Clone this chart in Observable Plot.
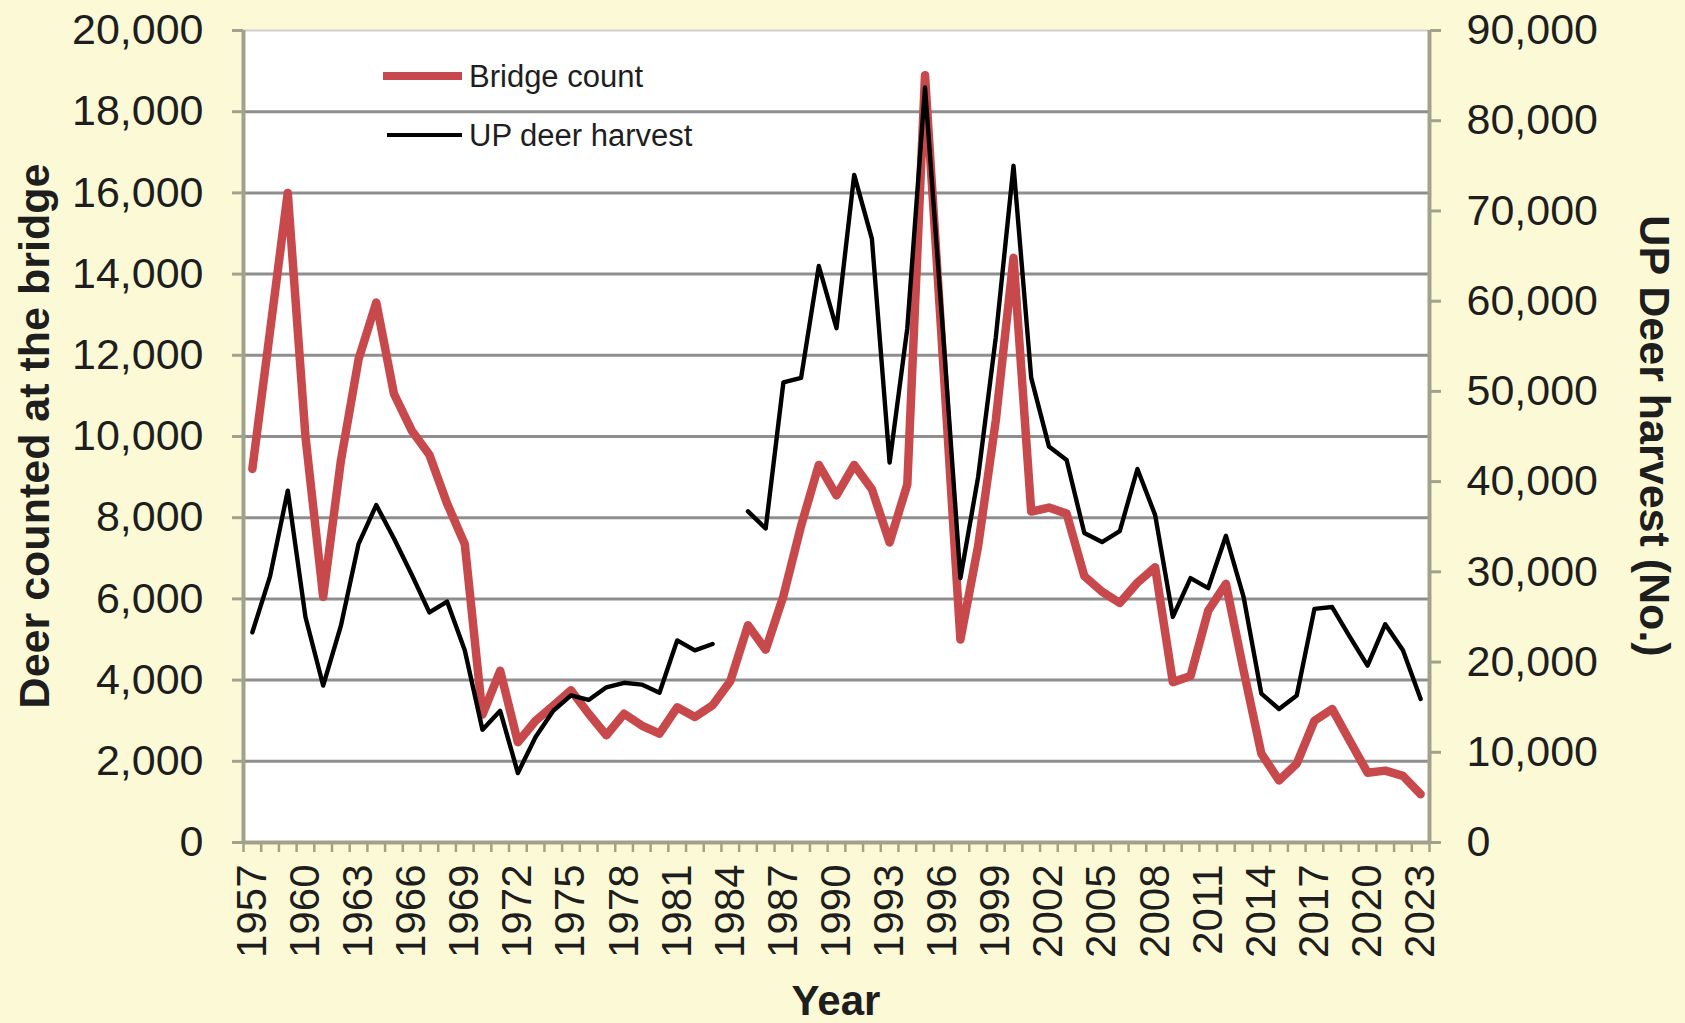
<!DOCTYPE html>
<html><head><meta charset="utf-8">
<script src="https://cdn.jsdelivr.net/npm/d3@7"></script>
<script src="https://cdn.jsdelivr.net/npm/@observablehq/plot@0.6"></script>
<style>
html,body{margin:0;padding:0;background:#fcfad6;}
#chart{width:1685px;height:1023px;}
</style></head><body><div id="chart"></div>
<script>
// ---- data ----
const years = d3.range(1957, 2024);
const bridgeCount = [9200,12600,16000,10000,6050,9400,11900,13300,11050,10150,9550,8350,7350,3150,4230,2470,3000,3370,3750,3170,2640,3170,2880,2680,3330,3090,3380,3970,5350,4750,6070,7800,9300,8550,9300,8700,7390,8820,18900,12000,5000,7300,10400,14400,8150,8250,8100,6560,6180,5900,6400,6780,3950,4100,5710,6370,4230,2190,1530,1940,3000,3290,2500,1720,1770,1640,1190];
const upHarvest = [23300,29500,39000,25000,17400,24000,33100,37400,33700,29700,25500,26700,21300,12500,14600,7700,11700,14600,16300,15800,17200,17700,17500,16600,22400,21300,22000,null,36700,34800,51000,51500,63900,57000,74000,66900,42100,57000,83700,57000,29300,40500,56000,75000,51500,43900,42400,34300,33300,34500,41400,36300,25000,29300,28200,34000,27200,16500,14800,16300,25900,26100,22800,19600,24200,21300,15900];
const leftTicks = d3.range(0, 20001, 2000);
const rightTicks = d3.range(0, 90001, 10000);
const yearLabels = d3.range(1957, 2024, 3);
const seriesNames = ["Bridge count", "UP deer harvest"];
const axisTitles = {left: "Deer counted at the bridge", right: "UP Deer harvest (No.)", x: "Year"};

const RATIO = 20000 / 90000;
const rows = years.map((y, i) => ({year: y, bridge: bridgeCount[i], harvest: upHarvest[i]}));

const RED = "#c8494b";
const AXIS = "#a2a28c";
const GRID = "#8e8e8e";
const FONT = "'Liberation Sans', Arial, sans-serif";
const TXT = "#1e1e1e";

const plot = Plot.plot({
  width: 1685, height: 1023,
  marginLeft: 243, marginRight: 256, marginTop: 30, marginBottom: 181,
  style: {background: "#fcfad6", fontFamily: FONT, color: TXT, overflow: "visible"},
  x: {type: "linear", domain: [1956.5, 2023.5]},
  y: {domain: [0, 20000]},
  marks: [
    Plot.frame({fill: "white", stroke: null}),
    Plot.gridY(leftTicks.filter(d => d > 0 && d < 20000), {stroke: GRID, strokeOpacity: 1, strokeWidth: 3}),
    Plot.gridY([20000], {stroke: "#cfcfcf", strokeOpacity: 1, strokeWidth: 2}),
    Plot.line(rows, {x: "year", y: "bridge", stroke: RED, strokeWidth: 8.5}),
    Plot.line(rows, {x: "year", y: d => d.harvest == null ? NaN : d.harvest * RATIO, stroke: "#000", strokeWidth: 4.4}),
    Plot.axisY(leftTicks, {anchor: "left", tickSize: 11, tickPadding: 29, tickFormat: d3.format(","), stroke: AXIS, strokeWidth: 3, fill: TXT, fontSize: 43, label: null}),
    Plot.axisY(rightTicks.map(v => v * RATIO), {anchor: "right", tickSize: 11, tickPadding: 26, tickFormat: d => d3.format(",")(Math.round(d / RATIO)), stroke: AXIS, strokeWidth: 3, fill: TXT, fontSize: 43, label: null}),
    Plot.axisX(d3.range(1956.5, 2024, 1), {anchor: "bottom", tickSize: 10, text: null, stroke: AXIS, strokeWidth: 2.5, label: null}),
    Plot.axisX(yearLabels, {anchor: "bottom", tickSize: 0, tickPadding: 22, tickRotate: -90, tickFormat: d => String(d), fill: TXT, fontSize: 42, label: null}),
    Plot.ruleX([1956.5, 2023.5], {stroke: AXIS, strokeWidth: 4}),
    Plot.ruleY([0], {stroke: AXIS, strokeWidth: 4})
  ]
});
document.getElementById("chart").appendChild(plot);

// axis titles and legend
const svg = d3.select(plot);
const x = plot.scale("x"), y = plot.scale("y");
const midY = (y.apply(0) + y.apply(20000)) / 2;
svg.append("text").text(axisTitles.left)
  .attr("transform", `translate(34,${midY}) rotate(-90)`)
  .attr("text-anchor", "middle").attr("dominant-baseline", "central")
  .attr("font-family", FONT).attr("font-weight", "bold").attr("font-size", 43).attr("fill", TXT);
svg.append("text").text(axisTitles.right)
  .attr("transform", `translate(1655,${midY}) rotate(90)`)
  .attr("text-anchor", "middle").attr("dominant-baseline", "central")
  .attr("font-family", FONT).attr("font-weight", "bold").attr("font-size", 43).attr("fill", TXT);
svg.append("text").text(axisTitles.x)
  .attr("x", (x.apply(1956.5) + x.apply(2023.5)) / 2).attr("y", 1000)
  .attr("text-anchor", "middle").attr("dominant-baseline", "central")
  .attr("font-family", FONT).attr("font-weight", "bold").attr("font-size", 42).attr("fill", TXT);

const legend = [{name: seriesNames[0], color: RED, w: 8, x0: 383, y: 76}, {name: seriesNames[1], color: "#000", w: 4, x0: 387, y: 135}];
const lg = svg.append("g");
legend.forEach(d => {
  lg.append("line").attr("x1", d.x0).attr("x2", 462).attr("y1", d.y).attr("y2", d.y).attr("stroke", d.color).attr("stroke-width", d.w);
  lg.append("text").text(d.name).attr("x", 469).attr("y", d.y).attr("text-anchor", "start").attr("dominant-baseline", "central")
    .attr("font-family", FONT).attr("font-size", 31).attr("fill", TXT);
});
</script></body></html>
